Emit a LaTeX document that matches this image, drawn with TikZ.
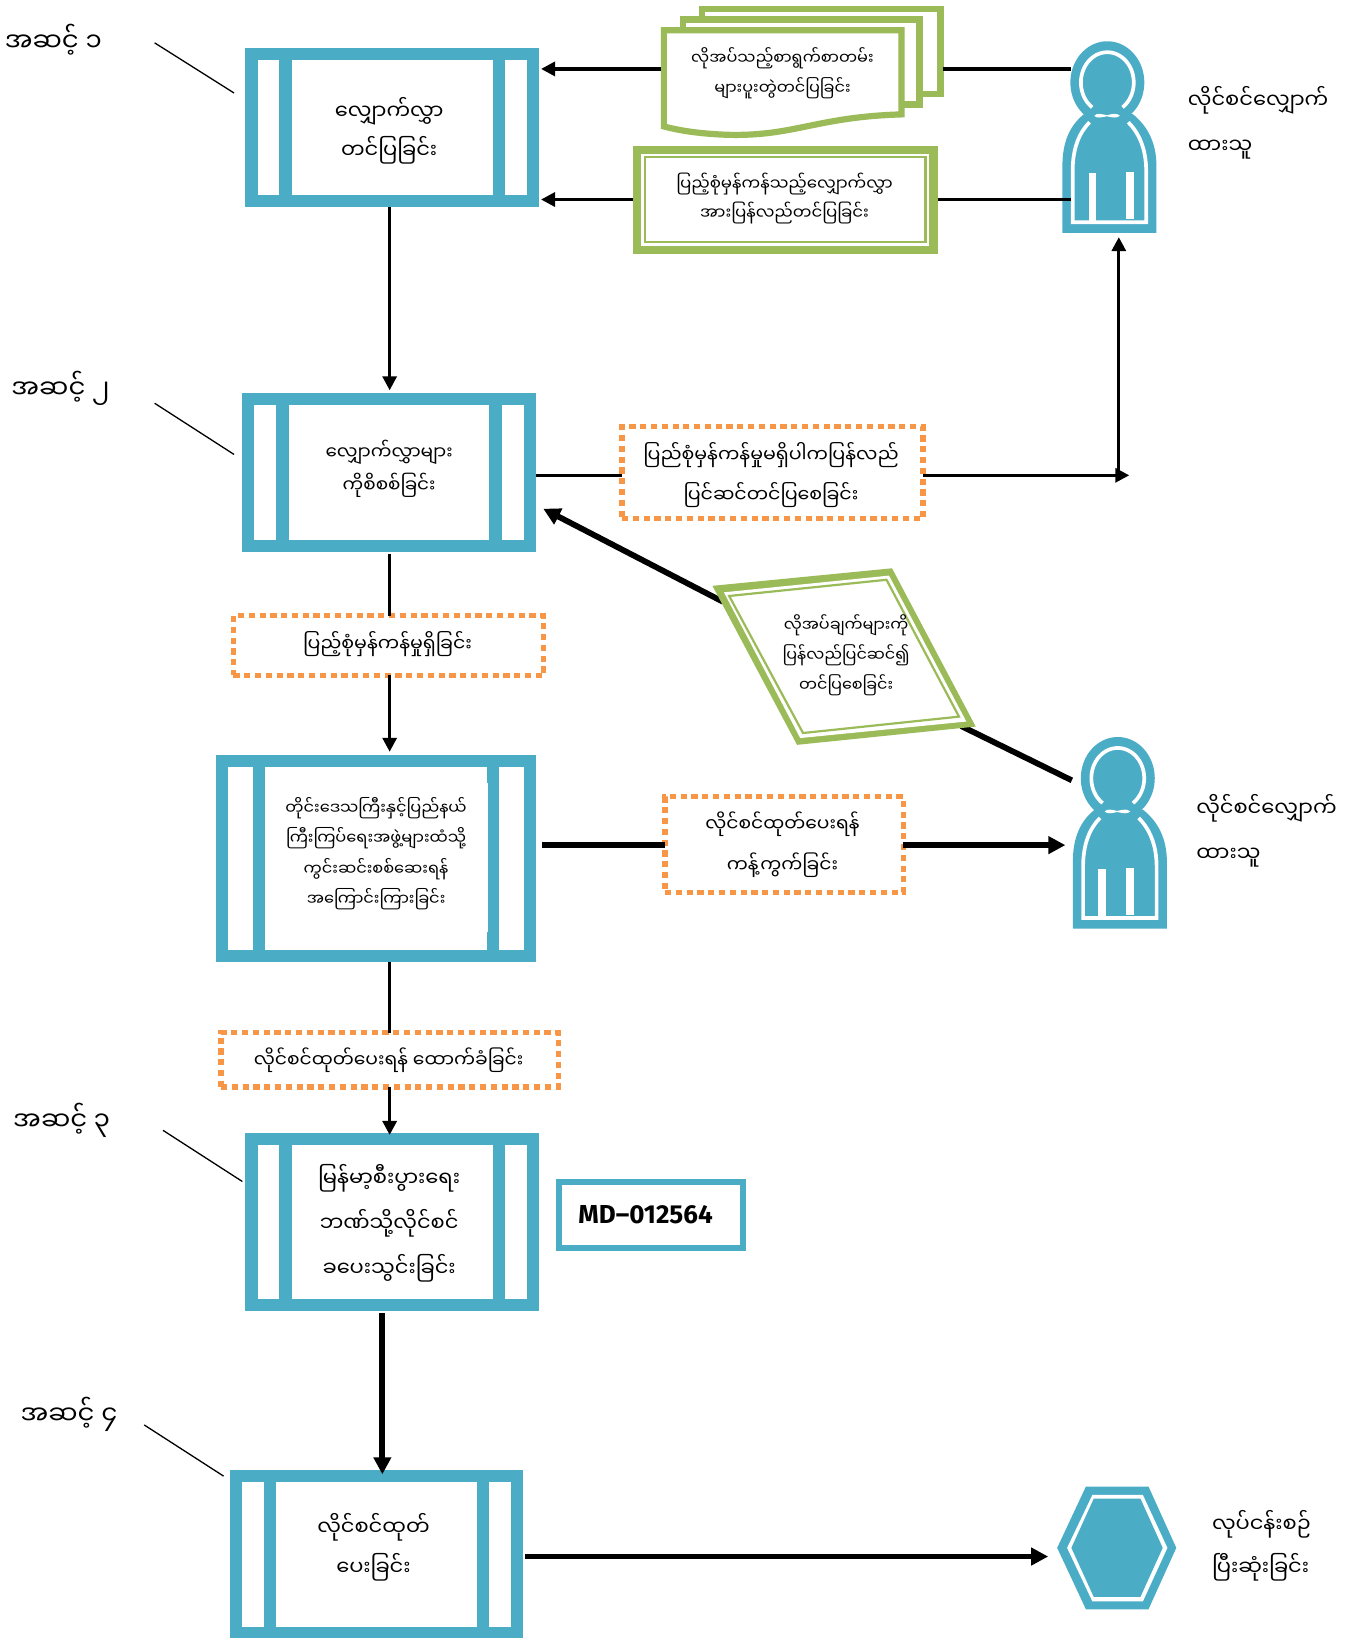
\documentclass[tikz,border=0pt]{standalone}
\usepackage{fontspec}
\newfontfamily\mmf[Script=Myanmar]{Noto Sans Myanmar UI}
\newfontfamily\latf{Fira Sans}
\usetikzlibrary{fit,arrows.meta}
\definecolor{bluec}{HTML}{4BACC6}
\definecolor{greenc}{HTML}{9BBB59}
\definecolor{orangec}{HTML}{F79646}
\tikzset{
  x=1.0449pt,y=-1.0449pt,
  tx/.style 2 args={font={\mmf\fontsize{#1}{#2}\selectfont\lineskiplimit=-100pt},align=center,inner sep=0pt,text=black},
  region/.style={inner sep=0pt,outer sep=0pt},
  dotbox/.style={inner sep=0pt,outer sep=0pt,draw=orangec,line width=5.2pt,dash pattern=on 6.2pt off 4.6pt,fill=white},
  thinc/.style={line width=3.2pt,black},
  thickc/.style={line width=5.8pt,black},
  tipa/.style={-{Triangle[length=14pt,width=14pt]}},
  tipb/.style={-{Triangle[length=17pt,width=17pt]}},
  leader/.style={line width=1.3pt,black},
}
% name,x1,y1,x2,y2,stripe width
\newcommand\procbox[6]{%
  \node[fit={(#2,#3)(#4,#5)},region,fill=bluec] (#1) {};
  \fill[white] (#2+11.5,#3+11.5) rectangle (#2+11.5+#6,#5-11.5);
  \fill[white] (#2+23.5+#6,#3+11.5) rectangle (#4-23.5-#6,#5-11.5);
  \fill[white] (#4-11.5-#6,#3+11.5) rectangle (#4-11.5,#5-11.5);
}
% name, dx, dy, leg1, leg2 (actor drawn in the frame of the lower one)
\newcommand\actorfig[5]{%
  \begin{scope}[shift={(#2,#3)}]
    \node[fit={(1027,706)(1117,889)},region] (#1) {};
    \fill[bluec] plot[domain=0:360,samples=80,smooth] ({1070+35.4*cos(\x)},{745+39.5*sin(\x)}) -- cycle;
    \fill[bluec] (1027,889) -- (1027,825) .. controls (1027,802) and (1034,786) .. (1048,775)
       -- (1094,775) .. controls (1108,786) and (1117,802) .. (1117,825) -- (1117,889) -- cycle;
    \draw[white,line width=3.7pt] plot[domain=125:415,samples=80,smooth] ({1070+25.3*cos(\x)},{745+29*sin(\x)});
    \draw[white,line width=3.7pt] (1053,783) .. controls (1043,793) and (1036.8,808) .. (1036.8,830)
       -- (1036.8,878.7) -- (1107.2,878.7) -- (1107.2,830) .. controls (1107.2,808) and (1100,793) .. (1090,783);
    \fill[white] (1057.5,776.8) .. controls (1060,774) and (1064,775) .. (1069.5,776.3) .. controls (1075,775) and (1079,774) .. (1082,776.8)
       .. controls (1079,779.5) and (1075,778.5) .. (1069.5,777.3) .. controls (1064,778.5) and (1060,779.5) .. (1057.5,776.8) -- cycle;
    \fill[white] (#4,832) rectangle (#4+7.5,878);
    \fill[white] (#5,831) rectangle (#5+7.5,876);
  \end{scope}
}
\begin{document}
\begin{tikzpicture}
\useasboundingbox (0,0) rectangle (1293,1568);
\fill[white] (0,0) rectangle (1293,1568);

% coordinates for horizontal / vertical routing and free ends
\coordinate (y66) at (0,66);
\coordinate (y191) at (0,191);
\coordinate (y455) at (0,455);
\coordinate (y809) at (0,809);
\coordinate (y1490) at (0,1490);
\coordinate (x373) at (373,0);
\coordinate (x366) at (366,0);
\coordinate (x1071) at (1071,0);
\coordinate (junction) at (1081,455);
\coordinate (paraNW) at (692,576);
\coordinate (paraSE) at (920,695);
\coordinate (act2out) at (1026,747);
\coordinate (box2in) at (520,487);
\coordinate (act1hit) at (1071,227);

% process boxes
\procbox{b1}{235}{46}{516}{198}{21}
\procbox{b2}{232}{376}{513}{528}{21}
\procbox{b3}{207}{723}{513}{921}{23.5}
\fill[white] (466,750) rectangle (467.5,892);
\procbox{b4}{235}{1085}{516}{1255}{21}
\procbox{b5}{220}{1407}{501}{1569}{21}

\node[tx={21}{39}] (tb1) at (372.5,125.5) {လျှောက်လွှာ\\တင်ပြခြင်း};
\node[tx={18.4}{32.5}] (tb2) at (372.5,449) {လျှောက်လွှာများ\\ကိုစိစစ်ခြင်း};
\node[tx={16.2}{30.5}] (tb3) at (360,817) {တိုင်းဒေသကြီးနှင့်ပြည်နယ်\\ကြီးကြပ်ရေးအဖွဲ့များထံသို့\\ကွင်းဆင်းစစ်ဆေးရန်\\အကြောင်းကြားခြင်း};
\node[tx={21}{45}] (tb4) at (372.5,1171) {မြန်မာ့စီးပွားရေး\\ဘဏ်သို့လိုင်စင်\\ခပေးသွင်းခြင်း};
\node[tx={21}{40}] (tb5) at (357.5,1481) {လိုင်စင်ထုတ်\\ပေးခြင်း};

% stage labels and leaders
\node[tx={26}{30}] (s1) at (51,38) {အဆင့် ၁};
\node[tx={26}{30}] (s2) at (58,372) {အဆင့် ၂};
\node[tx={26}{30}] (s3) at (59,1072) {အဆင့် ၃};
\node[tx={26}{30}] (s4) at (66,1354) {အဆင့် ၄};
\coordinate (l1a) at (148,41); \coordinate (l1b) at (224,89);
\coordinate (l2a) at (148,386); \coordinate (l2b) at (224,435);
\coordinate (l3a) at (156,1082); \coordinate (l3b) at (232,1131);
\coordinate (l4a) at (138,1364); \coordinate (l4b) at (214,1413);
\draw[leader] (l1a) -- (l1b);
\draw[leader] (l2a) -- (l2b);
\draw[leader] (l3a) -- (l3b);
\draw[leader] (l4a) -- (l4b);

% stacked document
\node[fit={(633,5)(903,132)},region] (doc) {};
\draw[greenc,line width=6.2pt,fill=white] (671.8,8.5) rectangle (900.2,90);
\draw[greenc,line width=6.2pt,fill=white] (653.8,18.7) rectangle (880.2,100);
\draw[greenc,line width=6.2pt,fill=white] (635.5,29) -- (863,29) -- (863,109.5)
   .. controls (780,112) and (760,131) .. (695,129) .. controls (670,128) and (650,125) .. (635.5,121) -- cycle;
\node[tx={16.1}{30}] (tdoc) at (749,70) {လိုအပ်သည့်စာရွက်စာတမ်း\\များပူးတွဲတင်ပြခြင်း};

% double green box
\node[fit={(606,139.5)(897.5,243)},region,fill=greenc] (dbl) {};
\fill[white] (614,147) rectangle (889.5,235.5);
\draw[greenc,line width=2.2pt] (617.5,150.5) rectangle (886,232);
\node[tx={16.6}{29.5}] (tdbl) at (751,190) {ပြည့်စုံမှန်ကန်သည့်လျှောက်လွှာ\\အားပြန်လည်တင်ပြခြင်း};

% actors
\actorfig{act1}{-10}{-666}{1052}{1088}
\actorfig{act2}{0}{0}{1051}{1078}
\node[tx={21}{45},anchor=west,align=left] (tact1) at (1137,118) {လိုင်စင်လျှောက်\\ထားသူ};
\node[tx={21}{45},anchor=west,align=left] (tact2) at (1145,795) {လိုင်စင်လျှောက်\\ထားသူ};

% orange boxes
\node[fit={(595.5,408.5)(883.5,496.5)},dotbox] (oa) {};
\node[tx={19}{40}] at (738,455) {ပြည်စုံမှန်ကန်မှုမရှိပါကပြန်လည်\\ပြင်ဆင်တင်ပြစေခြင်း};
\node[fit={(223.5,589.5)(520.5,646.5)},dotbox] (ob) {};
\node[tx={19}{24}] at (371,617) {ပြည့်စုံမှန်ကန်မှုရှိခြင်း};
\node[fit={(636.5,762.5)(864.5,854.5)},dotbox] (oc) {};
\node[tx={18.7}{41}] at (749,809) {လိုင်စင်ထုတ်ပေးရန်\\ကန့်ကွက်ခြင်း};
\node[fit={(211.5,988.5)(534.5,1040.5)},dotbox] (od) {};
\node[tx={18.7}{24}] at (372,1015) {လိုင်စင်ထုတ်ပေးရန် ထောက်ခံခြင်း};

% MD box
\node[fit={(535,1131)(711,1195)},region,draw=bluec,line width=6pt,fill=white] (md) {};
\node[font={\latf\bfseries\fontsize{26}{30}\selectfont},inner sep=0pt] (tmd) at (618,1163) {MD–012564};

% hexagon
\node[fit={(1012,1423)(1126,1540.5)},region] (hex) {};
\fill[bluec] (1012,1481.7) -- (1039.5,1423) -- (1099.4,1423) -- (1126,1481.7) -- (1099.4,1540.5) -- (1039.5,1540.5) -- cycle;
\fill[white] (1021.5,1481.7) -- (1045.7,1431) -- (1094,1431) -- (1117.5,1481.7) -- (1094,1533) -- (1045.7,1533) -- cycle;
\fill[bluec] (1025.6,1481.7) -- (1047,1434.6) -- (1091.7,1434.6) -- (1113,1481.7) -- (1091.7,1528.6) -- (1047,1528.6) -- cycle;
\node[tx={21}{43},anchor=west,align=left] (thex) at (1160,1480) {လုပ်ငန်းစဉ်\\ပြီးဆုံးခြင်း};

% connectors
\draw[thinc,tipa] (doc.west |- y66) -- ([xshift=2pt]b1.east |- y66);
\draw[thinc] (act1.west |- y66) ++(8,0) -- (doc.east |- y66);
\draw[thinc,tipa] (dbl.west |- y191) -- ([xshift=2pt]b1.east |- y191);
\draw[thinc] (act1.west |- y191) ++(8,0) -- (dbl.east |- y191);
\draw[thinc,tipa] (b1.south -| x373) -- ([yshift=2.5pt]b2.north -| x373);
\draw[thinc] (b2.east |- y455) -- (oa.west |- y455);
\draw[thinc,tipa] (oa.east |- y455) -- (junction);
\draw[thinc,tipa] (x1071 |- y455) -- (act1hit);
\draw[thinc] (b2.south -| x373) ++(0,2) -- (ob.north -| x373);
\draw[thinc,tipa] (ob.south -| x373) -- ([yshift=3.5pt]b3.north -| x373);
\draw[thickc] (b3.east |- y809) ++(6,0) -- (oc.west |- y809);
\draw[thickc,tipb] (oc.east |- y809) -- ([xshift=-7.5pt]act2.west |- y809);
\draw[thinc] (b3.south -| x373) -- (od.north -| x373);
\draw[thinc,tipa] (od.south -| x373) -- ([yshift=-1.5pt]b4.north -| x373);
\draw[thickc,tipb] (b4.south -| x366) ++(0,2) -- ([yshift=-4.5pt]b5.north -| x366);
\draw[thickc,tipb] (b5.east |- y1490) ++(2,0) -- ([xshift=-9pt]hex.west |- y1490);
\draw[thickc,tipb] (paraNW) -- (box2in);
\draw[thickc] (act2out) -- (paraSE);

% parallelogram on top of its connectors
\node[fit={(682,544)(934,713)},region] (para) {};
\fill[greenc] (682,560.8) -- (853.9,544) -- (934,695.5) -- (763,713) -- cycle;
\fill[white] (693,567) -- (851,551) -- (925,690.7) -- (766,706.5) -- cycle;
\draw[greenc,line width=2.2pt] (698,570.5) -- (848.6,555) -- (918,686) -- (768.7,701.7) -- cycle;
\node[tx={16}{30}] (tpara) at (810,627) {လိုအပ်ချက်များကို\\ပြန်လည်ပြင်ဆင်၍\\တင်ပြစေခြင်း};
\end{tikzpicture}
\end{document}
